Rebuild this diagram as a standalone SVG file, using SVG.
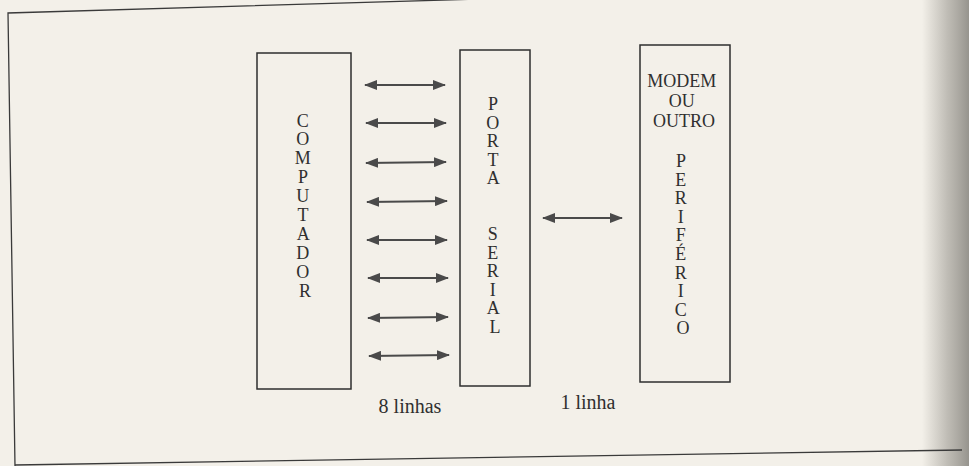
<svg xmlns="http://www.w3.org/2000/svg" width="969" height="466" viewBox="0 0 969 466">
  <defs>
    <linearGradient id="edge" x1="0" y1="0" x2="1" y2="0">
      <stop offset="0" stop-color="#8a8780" stop-opacity="0"/>
      <stop offset="0.55" stop-color="#8a8780" stop-opacity="0.5"/>
      <stop offset="1" stop-color="#77756f" stop-opacity="0.75"/>
    </linearGradient>
    <marker id="ah" viewBox="0 0 13 10" refX="12" refY="5" markerWidth="13" markerHeight="10" markerUnits="userSpaceOnUse" orient="auto-start-reverse">
      <path d="M0,0 L13,5 L0,10 z" fill="#4a4a4a"/>
    </marker>
  </defs>
  <style>
    .box { fill: none; stroke: #2e2e2e; stroke-width: 1.5; }
    .lbl { font-family: "Liberation Serif", "Times New Roman", "DejaVu Serif", serif; font-size: 20px; fill: #2f2f2f; text-anchor: middle; }
    .vt { font-size: 18px; }
    .arr { stroke: #4a4a4a; stroke-width: 2.2; marker-start: url(#ah); marker-end: url(#ah); }
    .frame { fill: none; stroke: #3a3a3a; stroke-width: 1.3; }
  </style>
  <rect x="0" y="0" width="969" height="466" fill="#f3f0e9"/>
  <rect x="922" y="0" width="47" height="466" fill="url(#edge)"/>
  <g id="frame">
    <path class="frame" d="M480,-1 L8,13 L15,466"/>
    <path class="frame" d="M15,465 L962,450"/>
  </g>
  <g id="computador">
    <rect class="box" x="257" y="53" width="94" height="336"/>
    <text class="lbl vt" font-family="Liberation Serif, serif">
      <tspan x="305" y="126.5">C</tspan>
      <tspan x="305" y="145.4">O</tspan>
      <tspan x="305" y="164.3">M</tspan>
      <tspan x="305" y="183.2">P</tspan>
      <tspan x="305" y="202.1">U</tspan>
      <tspan x="305" y="221">T</tspan>
      <tspan x="305" y="239.9">A</tspan>
      <tspan x="305" y="258.8">D</tspan>
      <tspan x="305" y="277.7">O</tspan>
      <tspan x="305" y="296.6">R</tspan>
    </text>
  </g>
  <g id="porta-serial">
    <rect class="box" x="460" y="50" width="70" height="336"/>
    <text class="lbl vt" font-family="Liberation Serif, serif">
      <tspan x="495" y="110">P</tspan>
      <tspan x="495" y="128.5">O</tspan>
      <tspan x="495" y="147">R</tspan>
      <tspan x="495" y="165.5">T</tspan>
      <tspan x="495" y="184">A</tspan>
      <tspan x="495" y="240">S</tspan>
      <tspan x="495" y="258.5">E</tspan>
      <tspan x="495" y="277">R</tspan>
      <tspan x="495" y="295.5">I</tspan>
      <tspan x="495" y="314">A</tspan>
      <tspan x="495" y="332.5">L</tspan>
    </text>
  </g>
  <g id="periferico">
    <rect class="box" x="640" y="45" width="90" height="337"/>
    <text class="lbl vt" font-family="Liberation Serif, serif">
      <tspan x="684" y="87">MODEM</tspan>
      <tspan x="684" y="107">OU</tspan>
      <tspan x="684" y="127">OUTRO</tspan>
    </text>
    <text class="lbl vt" font-family="Liberation Serif, serif">
      <tspan x="683" y="167">P</tspan>
      <tspan x="683" y="185.6">E</tspan>
      <tspan x="683" y="204.2">R</tspan>
      <tspan x="683" y="222.8">I</tspan>
      <tspan x="683" y="241.4">F</tspan>
      <tspan x="683" y="260">É</tspan>
      <tspan x="683" y="278.6">R</tspan>
      <tspan x="683" y="297.2">I</tspan>
      <tspan x="683" y="315.8">C</tspan>
      <tspan x="683" y="334.4">O</tspan>
    </text>
  </g>
  <g id="connectors">
    <line class="arr" x1="365" y1="85" x2="445" y2="85"/>
    <line class="arr" x1="366" y1="123" x2="446" y2="123"/>
    <line class="arr" x1="366" y1="163" x2="446" y2="162"/>
    <line class="arr" x1="367" y1="202" x2="447" y2="201"/>
    <line class="arr" x1="367" y1="240" x2="447" y2="240"/>
    <line class="arr" x1="368" y1="278" x2="448" y2="278"/>
    <line class="arr" x1="368" y1="318" x2="448" y2="317"/>
    <line class="arr" x1="369" y1="356" x2="449" y2="355"/>
    <line class="arr" x1="543" y1="218" x2="622" y2="218"/>
  </g>
  <g id="labels">
    <text class="lbl" font-family="Liberation Serif, serif" x="410" y="413">8 linhas</text>
    <text class="lbl" font-family="Liberation Serif, serif" x="588" y="409">1 linha</text>
  </g>
</svg>
